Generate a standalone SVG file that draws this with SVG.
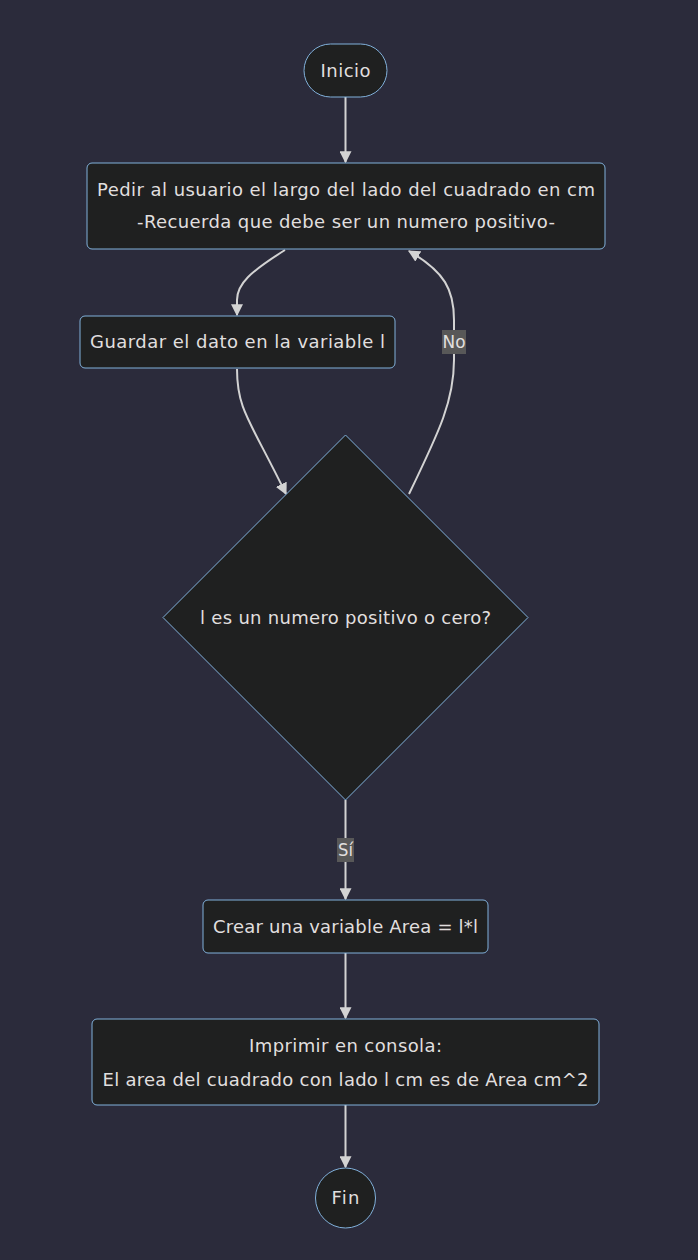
<svg xmlns="http://www.w3.org/2000/svg" width="698" height="1260" viewBox="0 0 698 1260">
<defs>
<style>
.node{fill:#1f2020;stroke:#81b1db;stroke-width:1;}
.t{font-family:"DejaVu Sans","Open Sans",sans-serif;font-size:18px;fill:#e0dfdf;text-anchor:middle;dominant-baseline:central;}
.edge{fill:none;stroke:#d3d3d3;stroke-width:2;}
.lbl{fill:#585858;}
</style>
<marker id="arr" viewBox="0 0 10 10" refX="9" refY="5" markerWidth="12" markerHeight="12" markerUnits="userSpaceOnUse" orient="auto">
<path d="M0,0 L10,5 L0,10 z" fill="#d3d3d3"/>
</marker>
</defs>
<rect width="698" height="1260" fill="#2b2b3b"/>
<g id="connectors">
<path class="edge" d="M345.5,97 L345.5,162" marker-end="url(#arr)"/>
<path class="edge" d="M285,250 C250,272 237,284 237,300 L237,315" marker-end="url(#arr)"/>
<path class="edge" d="M237,369 C237,410 250,420 286,494" marker-end="url(#arr)"/>
<path class="edge" d="M409,494 C440,430 454,400 454,360 L454,320 C454,290 445,272 409,251" marker-end="url(#arr)"/>
<path class="edge" d="M345.5,800 L345.5,899" marker-end="url(#arr)"/>
<path class="edge" d="M345.5,953 L345.5,1018" marker-end="url(#arr)"/>
<path class="edge" d="M345.5,1105 L345.5,1167" marker-end="url(#arr)"/>
<rect class="lbl" x="442" y="330" width="24" height="24"/>
<text class="t" x="454" y="341" textLength="23" lengthAdjust="spacingAndGlyphs">No</text>
<rect class="lbl" x="337" y="838" width="17" height="24"/>
<text class="t" x="345.5" y="849" textLength="15" lengthAdjust="spacingAndGlyphs">Sí</text>
</g>
<g id="inicio">
<rect class="node" x="304" y="44" width="83" height="53" rx="26.5"/>
<text class="t" x="345.5" y="70" textLength="50">Inicio</text>
</g>
<g id="pedir">
<rect class="node" x="87" y="163" width="518" height="86" rx="5"/>
<text class="t" x="346" y="189" textLength="498">Pedir al usuario el largo del lado del cuadrado en cm</text>
<text class="t" x="346" y="221" textLength="418">-Recuerda que debe ser un numero positivo-</text>
</g>
<g id="guardar">
<rect class="node" x="80" y="316" width="315" height="52" rx="5"/>
<text class="t" x="237.5" y="341" textLength="295">Guardar el dato en la variable l</text>
</g>
<g id="decision">
<polygon class="node" points="345.5,435 528,617.5 345.5,800 163,617.5"/>
<text class="t" x="345.5" y="617" textLength="291">l es un numero positivo o cero?</text>
</g>
<g id="crear">
<rect class="node" x="203" y="900" width="285" height="53" rx="5"/>
<text class="t" x="345.5" y="926" textLength="265">Crear una variable Area = l*l</text>
</g>
<g id="imprimir">
<rect class="node" x="92" y="1019" width="507" height="86" rx="5"/>
<text class="t" x="345.5" y="1045" textLength="193">Imprimir en consola:</text>
<text class="t" x="345.5" y="1079" textLength="486">El area del cuadrado con lado l cm es de Area cm^2</text>
</g>
<g id="fin">
<circle class="node" cx="345.5" cy="1198" r="30"/>
<text class="t" x="345.5" y="1197.5" textLength="28">Fin</text>
</g>
</svg>
